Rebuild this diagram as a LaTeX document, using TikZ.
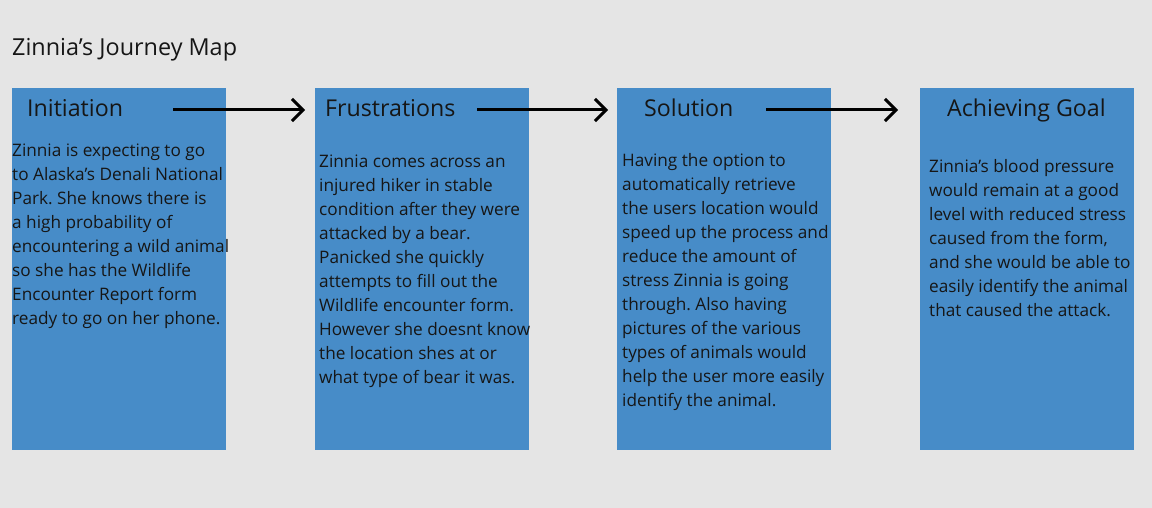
\documentclass[tikz,border=0pt]{standalone}
\usepackage{fontspec}
\setmainfont{Open Sans}
\frenchspacing
\usetikzlibrary{arrows.meta, positioning, calc}
\definecolor{pagegray}{RGB}{229,229,229}
\definecolor{stageblue}{RGB}{71,140,200}
\definecolor{inkblack}{RGB}{22,22,22}

\begin{document}
\begin{tikzpicture}[
  x=1pt, y=-1pt,
  >={Straight Barb[length=11pt, width=22pt]},
  % Node styles
  stage/.style={rectangle, fill=stageblue, draw=none, anchor=north west,
    minimum width=214pt, minimum height=362pt, inner sep=0pt},
  maptitle/.style={anchor=base west, inner sep=0pt, text=inkblack,
    font=\fontsize{23.4}{28}\selectfont},
  stagetitle/.style={anchor=base west, inner sep=0pt, text=inkblack,
    font=\fontsize{23.2}{28}\selectfont},
  % base anchor of a multi-line node sits on its last line
  stagetext/.style={anchor=base west, inner sep=0pt, align=left, text=inkblack,
    font=\fontsize{17.2}{24}\selectfont},
  % Edge styles
  flow/.style={->, line width=3pt, draw=black}
]

% ------------------------------------------------------------
% Canvas
% ------------------------------------------------------------
\fill[pagegray] (0,0) rectangle (1152,508);
\useasboundingbox (0,0) rectangle (1152,508);

\node[maptitle] (map) at (12,56) {Zinnia’s Journey Map};

% ------------------------------------------------------------
% Stage boxes (four columns)
% ------------------------------------------------------------
\node[stage] (initbox) at (12,88)  {};
\node[stage] (frusbox) at (315,88) {};
\node[stage] (solbox)  at (617,88) {};
\node[stage] (goalbox) at (920,88) {};

% Stage headings
\node[stagetitle] (inithead) at (27,117)  {Initiation};
\node[stagetitle] (frushead) at (325,117) {Frustrations};
\node[stagetitle] (solhead)  at (644,117) {Solution};
\node[stagetitle] (goalhead) at (947,117) {Achieving Goal};

% ------------------------------------------------------------
% Flow arrows between stages
% ------------------------------------------------------------
\coordinate (f1s) at (173,110); \coordinate (f1e) at (305,110);
\coordinate (f2s) at (477,110); \coordinate (f2e) at (608,110);
\coordinate (f3s) at (766,110); \coordinate (f3e) at (898,110);

\draw[flow] (f1s) -- (f1e);
\draw[flow] (f2s) -- (f2e);
\draw[flow] (f3s) -- (f3e);

% ------------------------------------------------------------
% Stage descriptions (placed at the baseline of the last line)
% ------------------------------------------------------------
\node[stagetext] (inittext) at (12,324) {Zinnia is expecting to go\\to Alaska’s Denali National\\Park. She knows there is\\a high probability of\\encountering a wild animal\\so she has the Wildlife\\Encounter Report form\\ready to go on her phone.};

\node[stagetext] (frustext) at (319,383) {Zinnia comes across an\\injured hiker in stable\\condition after they were\\attacked by a bear.\\Panicked she quickly\\attempts to fill out the\\Wildlife encounter form.\\However she doesnt know\\the location shes at or\\what type of bear it was.};

\node[stagetext] (soltext) at (622,406) {Having the option to\\automatically retrieve\\the users location would\\speed up the process and\\reduce the amount of\\stress Zinnia is going\\through. Also having\\pictures of the various\\types of animals would\\help the user more easily\\identify the animal.};

\node[stagetext] (goaltext) at (929,316) {Zinnia’s blood pressure\\would remain at a good\\level with reduced stress\\caused from the form,\\and she would be able to\\easily identify the animal\\that caused the attack.};

\end{tikzpicture}
\end{document}
